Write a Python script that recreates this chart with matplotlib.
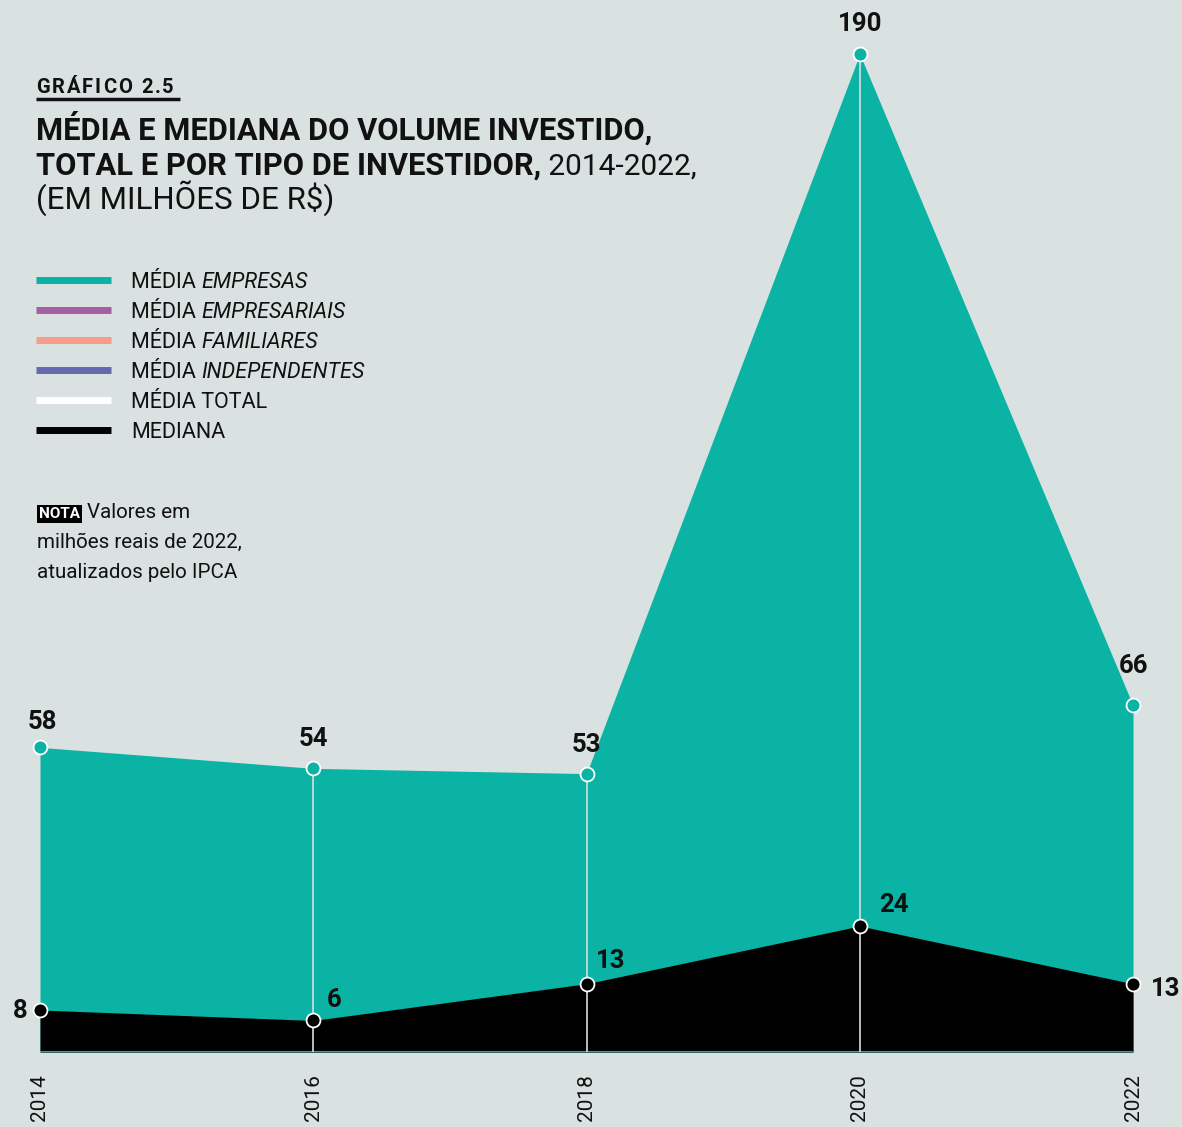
import matplotlib.pyplot as plt
from matplotlib.lines import Line2D

years = [2014, 2016, 2018, 2020, 2022]
media_empresas = [58, 54, 53, 190, 66]
mediana = [8, 6, 13, 24, 13]

legend_labels = [('MÉDIA ', 'EMPRESAS'), ('MÉDIA ', 'EMPRESARIAIS'), ('MÉDIA ', 'FAMILIARES'),
                 ('MÉDIA ', 'INDEPENDENTES'), ('MÉDIA TOTAL', ''), ('MEDIANA', '')]
legend_colors = ['#0ab3a3', '#a65ea0', '#f59c8b', '#6469b0', '#ffffff', '#000000']

BG = '#d9e2e1'
TEAL = '#0ab3a3'
INK = '#111111'
W, H = 1182, 1127

plt.rcParams['font.family'] = ['Roboto', 'DejaVu Sans']


def px(x, y):
    return x / W, 1 - y / H


fig = plt.figure(figsize=(W / 100, H / 100), dpi=100, facecolor=BG)
ax = fig.add_axes([40 / W, 75 / H, (1133 - 40) / W, (1052 - 54) / H])
ax.set_facecolor(BG)
ax.set_xlim(years[0], years[-1])
ax.set_ylim(0, 190)
for s in ax.spines.values():
    s.set_visible(False)
ax.set_yticks([])
ax.set_xticks(years)
ax.set_xticklabels([str(y) for y in years], rotation=90, fontsize=15, color=INK, va='top')
ax.tick_params(axis='x', length=0, pad=16)

ax.fill_between(years, 0, media_empresas, color=TEAL, lw=0)
ax.fill_between(years, 0, mediana, color='black', lw=0)
ax.axhline(0, color=TEAL, lw=1.5)
ax.vlines(years[1:-1], 0, media_empresas[1:-1], color='#d8dede', lw=1.2, zorder=3)

ax.plot(years, media_empresas, ls='none', marker='o', ms=10, mfc=TEAL, mec='white',
        mew=1.3, clip_on=False, zorder=4)
ax.plot(years, mediana, ls='none', marker='o', ms=10, mfc='black', mec='white',
        mew=1.3, clip_on=False, zorder=4)

mean_off = [(2, 18), (0, 21), (0, 20.5), (0, 21.5), (0, 28)]
for x, v, off in zip(years, media_empresas, mean_off):
    ax.annotate(str(v), (x, v), xytext=off, textcoords='offset points', ha='center',
                va='center', fontsize=18.5, fontweight='bold', color=INK)

med_off = [(-9, -1, 'right'), (10, 15, 'left'), (7, 16, 'left'), (14, 15, 'left'), (13, -4, 'left')]
for x, v, (dx, dy, ha) in zip(years, mediana, med_off):
    ax.annotate(str(v), (x, v), xytext=(dx, dy), textcoords='offset points', ha=ha,
                va='center', fontsize=18.5, fontweight='bold', color=INK)

# title block, letter-spaced header
prev = fig.text(*px(36, 93), 'G', fontsize=14.5, fontweight='bold', color=INK)
for ch in 'RÁFICO 2.5':
    prev = ax.annotate(ch, xy=(1, 0), xycoords=prev, xytext=(1.4, 0), textcoords='offset points',
                       va='bottom', ha='left', fontsize=14.5, fontweight='bold', color=INK,
                       annotation_clip=False)
fig.add_artist(Line2D([36 / W, 180 / W], [1 - 99 / H, 1 - 99 / H], color=INK, lw=2.5,
                      solid_capstyle='butt'))
fig.text(*px(36, 140), 'MÉDIA E MEDIANA DO VOLUME INVESTIDO,', fontsize=22.2,
         fontweight='bold', color=INK)
t = fig.text(*px(36, 175), 'TOTAL E POR TIPO DE INVESTIDOR,', fontsize=22.2,
             fontweight='bold', color=INK)
ax.annotate(' 2014-2022,', xy=(1, 0), xycoords=t, va='bottom', ha='left', fontsize=21.5,
            color=INK, annotation_clip=False)
fig.text(*px(36, 209), '(EM MILHÕES DE R$)', fontsize=22.5, color=INK)

# legend
for i, ((a, b), c) in enumerate(zip(legend_labels, legend_colors)):
    y = 280 + i * 30
    fig.add_artist(Line2D([36 / W, 111 / W], [1 - y / H, 1 - y / H], color=c, lw=5,
                          solid_capstyle='butt'))
    ta = fig.text(*px(131, y + 8), a, fontsize=15.5, color=INK)
    if b:
        ax.annotate(b, xy=(1, 0), xycoords=ta, va='bottom', ha='left', fontsize=15.5,
                    fontstyle='italic', color=INK, annotation_clip=False)

fig.text(*px(39, 518), 'NOTA', fontsize=11, fontweight='bold', color='white',
         bbox=dict(facecolor='black', edgecolor='none', pad=1.5))
fig.text(*px(87, 518), 'Valores em', fontsize=14.8, color=INK)
fig.text(*px(37, 548), 'milhões reais de 2022,', fontsize=14.8, color=INK)
fig.text(*px(37, 578), 'atualizados pelo IPCA', fontsize=14.8, color=INK)

fig.savefig('out.png', dpi=100, facecolor=BG)
